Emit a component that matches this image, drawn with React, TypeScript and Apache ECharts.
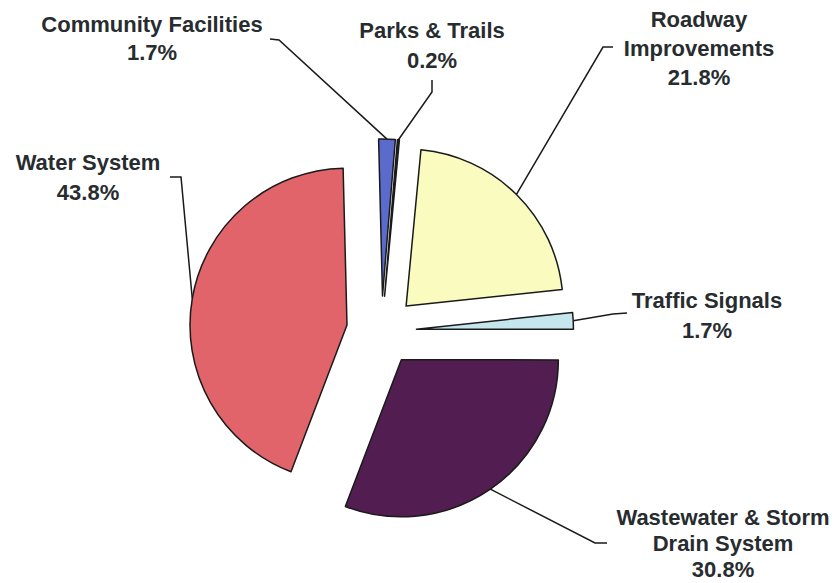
import React, { useEffect, useRef } from "react";
import * as echarts from "echarts";

const categories = [
  "Parks & Trails",
  "Roadway\nImprovements",
  "Traffic Signals",
  "Wastewater & Storm\nDrain System",
  "Water System",
  "Community Facilities",
];
const values = [0.2, 21.8, 1.7, 30.8, 43.8, 1.7];
const colors = ["#1d2431", "#fafcbf", "#c6e6ee", "#521d50", "#e0646a", "#5b6bcb"];

// label block centres, line heights and leader-line bends (layout only)
const labelAnchors: number[][] = [
  [432, 45],
  [699, 48],
  [707, 315],
  [723, 543],
  [88, 177],
  [152, 38],
];
const labelLineHeights = [30, 29, 30, 26, 30, 28];
const lineBends: number[][][] = [
  [[432, 92], [432, 80]],
  [[603, 47], [613, 47]],
  [[613, 314], [627, 313]],
  [[595, 543], [607, 543]],
  [[181, 177], [170, 177]],
  [[279, 40], [270, 39]],
];

const CENTER = [381.5, 331];
const RADIUS = 157;
const START_ANGLE = 85.3;
const EXPLODE = 35;

export default function App() {
  const ref = useRef<HTMLDivElement>(null);
  useEffect(() => {
    if (!ref.current) return;
    const chart = echarts.init(ref.current, null, { renderer: "svg" });
    const border = "#1a1a1a";
    const total = values.reduce((a, b) => a + b, 0);
    let cum = 0;
    const series = categories.map((_, k) => {
      const mid = START_ANGLE - ((cum + values[k] / 2) / total) * 360;
      cum += values[k];
      const rad = (mid * Math.PI) / 180;
      const cx = CENTER[0] + EXPLODE * Math.cos(rad);
      const cy = CENTER[1] - EXPLODE * Math.sin(rad);
      return {
        type: "pie",
        center: [cx, cy],
        radius: [0, RADIUS],
        startAngle: START_ANGLE,
        clockwise: true,
        avoidLabelOverlap: false,
        minShowLabelAngle: 0,
        silent: true,
        emphasis: { disabled: true },
        z: k === 0 ? 3 : 2,
        labelLayout: (params: any) => {
          const i = params.dataIndex;
          const start = params.labelLinePoints ? params.labelLinePoints[0] : lineBends[i][0];
          return {
            x: labelAnchors[i][0],
            y: labelAnchors[i][1],
            align: "center",
            verticalAlign: "middle",
            labelLinePoints: [start, lineBends[i][0], lineBends[i][1]],
          };
        },
        data: categories.map((name, i) => ({
          name,
          value: values[i],
          itemStyle:
            i === k
              ? { color: colors[i], borderColor: border, borderWidth: 1.5 }
              : { color: "rgba(0,0,0,0)", borderWidth: 0 },
          label:
            i === k
              ? {
                  show: true,
                  position: "outside",
                  formatter: (p: any) => `${p.name}\n${p.value}%`,
                  fontFamily: "'Liberation Sans', Arial, sans-serif",
                  fontWeight: "bold",
                  fontSize: 22,
                  lineHeight: labelLineHeights[i],
                  color: "#272c2f",
                  align: "center",
                }
              : { show: false },
          labelLine:
            i === k
              ? { show: true, smooth: false, lineStyle: { color: border, width: 1.5 } }
              : { show: false },
        })),
      };
    });
    chart.setOption({
      animation: false,
      backgroundColor: "#ffffff",
      series,
    });
    return () => chart.dispose();
  }, []);
  return (
    <div
      ref={ref}
      style={{ position: "fixed", left: 0, top: 0, width: 840, height: 583 }}
    />
  );
}
